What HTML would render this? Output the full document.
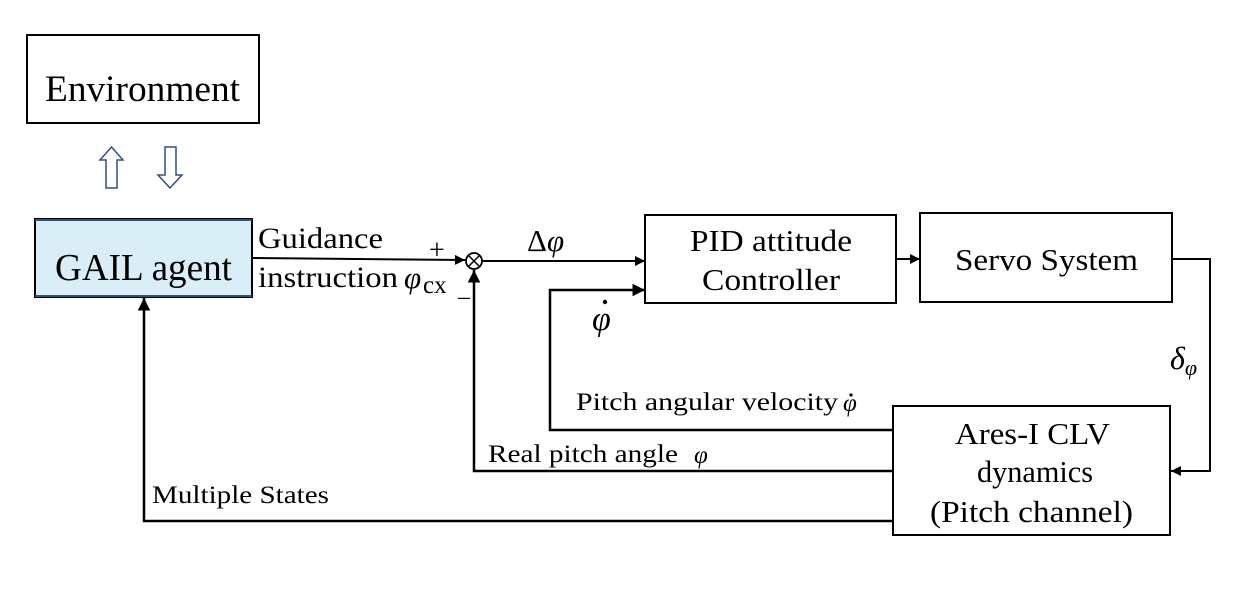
<!DOCTYPE html>
<html><head><meta charset="utf-8"><style>
body{margin:0;background:#fff;}
svg text{font-family:"Liberation Serif",serif;fill:#000;}
</style></head><body>
<svg width="1255" height="609" viewBox="0 0 1255 609" xmlns="http://www.w3.org/2000/svg">
<defs><marker id="a" viewBox="0 0 10 10" refX="10" refY="5" markerWidth="5" markerHeight="5" orient="auto"><path d="M0,0L10,5L0,10z" fill="#000"/></marker></defs>
<rect x="27" y="35" width="232" height="88" fill="#fff" stroke="#000" stroke-width="2"/>
<text x="45" y="101" font-size="37" textLength="195" lengthAdjust="spacingAndGlyphs">Environment</text>
<path d="M111.5,147 L123,160 L117,160 L117,188 L106,188 L106,160 L100,160 Z" fill="#fff" stroke="#2f5080" stroke-width="1.5"/>
<path d="M170,188 L182,175 L176,175 L176,147 L165,147 L165,175 L158,175 Z" fill="#fff" stroke="#2f5080" stroke-width="1.5"/>
<rect x="35" y="219" width="217" height="78" fill="#daeef8" stroke="#000" stroke-width="2"/>
<line x1="35" y1="220" x2="252" y2="220" stroke="#2f5080" stroke-width="2"/>
<line x1="35" y1="296" x2="252" y2="296" stroke="#2f5080" stroke-width="2"/>
<text x="55" y="280" font-size="38" textLength="177" lengthAdjust="spacingAndGlyphs">GAIL agent</text>
<line x1="252" y1="258" x2="465" y2="260" stroke="#000" stroke-width="2" marker-end="url(#a)"/>
<text x="258" y="248" font-size="30" textLength="125" lengthAdjust="spacingAndGlyphs">Guidance</text>
<text x="258" y="287" font-size="30" textLength="140" lengthAdjust="spacingAndGlyphs">instruction</text>
<text x="404" y="288" font-size="31" font-style="italic">φ</text>
<text x="423" y="293" font-size="25">cx</text>
<text x="429" y="259" font-size="28">+</text>
<text x="458" y="296" font-size="24">_</text>
<circle cx="474" cy="261" r="8" fill="#fff" stroke="#000" stroke-width="1.8"/>
<path d="M468.5,255.5L479.5,266.5M479.5,255.5L468.5,266.5" stroke="#000" stroke-width="1.5"/>
<line x1="482" y1="261" x2="645" y2="261" stroke="#000" stroke-width="2" marker-end="url(#a)"/>
<text x="527" y="251" font-size="31" font-family="Liberation Sans">Δ<tspan font-style="italic" font-family="Liberation Serif">φ</tspan></text>
<rect x="645" y="215" width="251" height="88" fill="#fff" stroke="#000" stroke-width="2"/>
<text x="690" y="251" font-size="31" textLength="162" lengthAdjust="spacingAndGlyphs">PID attitude</text>
<text x="702" y="290" font-size="31" textLength="138" lengthAdjust="spacingAndGlyphs">Controller</text>
<line x1="896" y1="259" x2="920" y2="259" stroke="#000" stroke-width="2" marker-end="url(#a)"/>
<rect x="920" y="213" width="252" height="89" fill="#fff" stroke="#000" stroke-width="2"/>
<text x="955" y="270" font-size="31" textLength="183" lengthAdjust="spacingAndGlyphs">Servo System</text>
<polyline points="1172,259 1210,259 1210,471 1171,471" fill="none" stroke="#000" stroke-width="2" marker-end="url(#a)"/>
<text x="1170" y="369" font-size="32" font-style="italic">δ<tspan font-size="22" dy="6">φ</tspan></text>
<rect x="893" y="406" width="277" height="129" fill="#fff" stroke="#000" stroke-width="2"/>
<text x="955" y="444" font-size="31" textLength="155" lengthAdjust="spacingAndGlyphs">Ares-I CLV</text>
<text x="977" y="482" font-size="31" textLength="116" lengthAdjust="spacingAndGlyphs">dynamics</text>
<text x="930" y="522" font-size="31" textLength="203" lengthAdjust="spacingAndGlyphs">(Pitch channel)</text>
<polyline points="893,430 550,430 550,290 645,290" fill="none" stroke="#000" stroke-width="2.5" marker-end="url(#a)"/>
<text x="592" y="330" font-size="34" font-style="italic">φ</text>
<circle cx="605" cy="302" r="2.2" fill="#000"/>
<text x="576" y="410" font-size="25" textLength="262" lengthAdjust="spacingAndGlyphs">Pitch angular velocity</text>
<text x="843" y="411" font-size="25" font-style="italic">φ</text>
<circle cx="851" cy="395" r="1.6" fill="#000"/>
<polyline points="893,471 474,471 474,270" fill="none" stroke="#000" stroke-width="2.5" marker-end="url(#a)"/>
<text x="488" y="462" font-size="25" textLength="190" lengthAdjust="spacingAndGlyphs">Real pitch angle</text>
<text x="694" y="463" font-size="25" font-style="italic">φ</text>
<polyline points="893,521 144,521 144,298" fill="none" stroke="#000" stroke-width="2.5" marker-end="url(#a)"/>
<text x="152" y="503" font-size="25" textLength="177" lengthAdjust="spacingAndGlyphs">Multiple States</text>
</svg>
</body></html>
